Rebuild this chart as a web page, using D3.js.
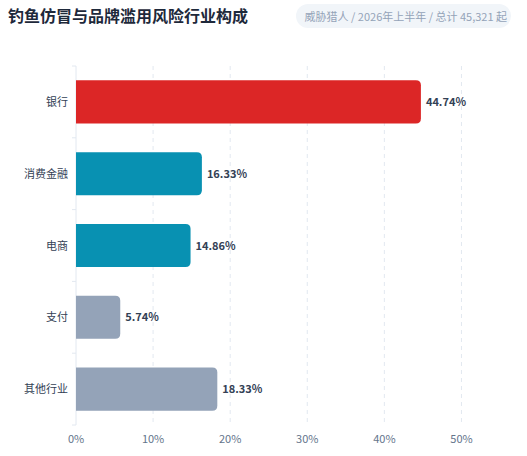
<!DOCTYPE html><html><head><meta charset="utf-8"><script src="https://cdn.jsdelivr.net/npm/d3@7"></script>
<style>body{margin:0;background:#fff;font-family:"Noto Sans CJK SC","Noto Sans",sans-serif}</style></head><body><svg id="c" width="527" height="456"></svg><script>
const categories=["银行","消费金融","电商","支付","其他行业"];
const values=[44.74,16.33,14.86,5.74,18.33];
const colors=["#dc2626","#0891b2","#0891b2","#94a3b8","#94a3b8"];
const xTicks=[0,10,20,30,40,50];
const svg=d3.select("#c");
const f='"Noto Sans CJK SC","Noto Sans",sans-serif';
svg.append("text").attr("x",8).attr("y",22).attr("font-size",16).attr("font-weight",700).attr("fill","#1e293b").attr("font-family",f).text("钓鱼仿冒与品牌滥用风险行业构成");
svg.append("rect").attr("x",296).attr("y",4).attr("width",215).attr("height",24).attr("rx",12).attr("fill","#f1f5f9");
svg.append("text").attr("x",507).attr("y",20.5).attr("text-anchor","end").attr("font-size",11).attr("fill","#94a3b8").attr("font-family",f).text("威胁猎人 / 2026年上半年 / 总计 45,321 起");
const x=d3.scaleLinear().domain([0,55]).range([76,500]);
const y=d3.scaleBand().domain(categories).range([66,425]).paddingInner(0.4).paddingOuter(0.2);
const g=svg.append("g");
xTicks.forEach(t=>{if(t>0)g.append("line").attr("x1",x(t)).attr("x2",x(t)).attr("y1",66).attr("y2",425).attr("stroke","#e2e8f0").attr("stroke-dasharray","4,4");
g.append("text").attr("x",x(t)).attr("y",443).attr("text-anchor","middle").attr("font-size",11).attr("fill","#64748b").attr("font-family",f).text(t+"%");});
g.append("line").attr("x1",76).attr("x2",76).attr("y1",66).attr("y2",425).attr("stroke","#e2e8f0");
for(let i=0;i<=categories.length;i++){const yy=66+i*(425-66)/categories.length;g.append("line").attr("x1",72).attr("x2",76).attr("y1",yy).attr("y2",yy).attr("stroke","#e2e8f0");}
categories.forEach((c,i)=>{
 const yc=y(c)+y.bandwidth()/2;
 g.append("path").attr("d",()=>{const x0=x(0),x1=x(values[i]),y0=y(c),h=y.bandwidth(),r=5;return `M${x0},${y0}H${x1-r}Q${x1},${y0} ${x1},${y0+r}V${y0+h-r}Q${x1},${y0+h} ${x1-r},${y0+h}H${x0}Z`;}).attr("fill",colors[i]);
 g.append("text").attr("x",68).attr("y",yc+4).attr("text-anchor","end").attr("font-size",11).attr("fill","#334155").attr("font-family",f).text(c);
 g.append("text").attr("x",x(values[i])+5).attr("y",yc+4).attr("font-size",11).attr("font-weight",700).attr("fill","#334155").attr("font-family",f).text(values[i].toFixed(2)+"%");
});
</script></body></html>
